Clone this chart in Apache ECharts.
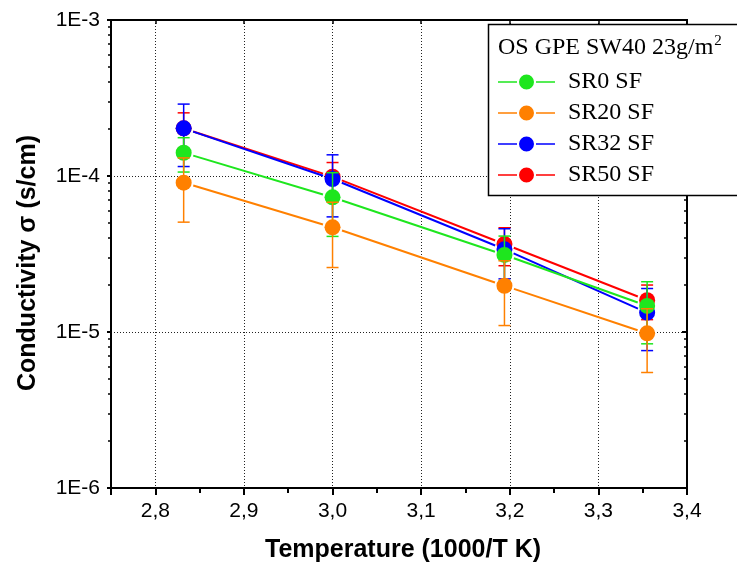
<!DOCTYPE html>
<html>
<head>
<meta charset="utf-8">
<script src="https://cdn.jsdelivr.net/npm/echarts@6/dist/echarts.min.js"></script>
<style>
  html, body { margin: 0; padding: 0; background: #fff; }
  #chart { width: 737px; height: 573px; }
</style>
</head>
<body>
<div id="chart"></div>
<script>
// x positions (1000/T)
const temps = [2.832, 3.0, 3.194, 3.355]

// conductivity values and error (+/-) per sample
const sr0 = [1.41e-4, 7.3e-5, 3.12e-5, 1.47e-5]
const sr0Err = [3.5e-5, 3.2e-5, 1.0e-5, 6.3e-6]
const sr20 = [9.06e-5, 4.69e-5, 1.98e-5, 9.8e-6]
const sr20Err = [4.0e-5, 2.1e-5, 8.8e-6, 4.3e-6]
const sr32 = [2.02e-4, 9.57e-5, 3.39e-5, 1.33e-5]
const sr32Err = [8.7e-5, 4.1e-5, 1.2e-5, 5.7e-6]
const sr50 = [2.02e-4, 9.9e-5, 3.66e-5, 1.6e-5]
const sr50Err = [5.2e-5, 2.3e-5, 1.0e-5, 4.0e-6]

const legendNames = ['SR0 SF', 'SR20 SF', 'SR32 SF', 'SR50 SF']
const yTicks = [1e-6, 1e-5, 1e-4, 1e-3]

const GAP = 10
const CAP = 6

const makeSeries = (name, color, vals, errs) => ({
  type: 'custom',
  name: name,
  itemStyle: { color: color },
  encode: { x: 0, y: 1 },
  data: temps.map((t, i) => [t, vals[i], errs[i]]),
  renderItem: (params, api) => {
    const i = params.dataIndex
    const x = api.value(0)
    const v = api.value(1)
    const e = api.value(2)
    const p = api.coord([x, v])
    const top = api.coord([x, v + e])
    const bot = api.coord([x, v - e])
    const children = []
    if (i < temps.length - 1) {
      const q = api.coord([temps[i + 1], vals[i + 1]])
      const dx = q[0] - p[0], dy = q[1] - p[1]
      const len = Math.sqrt(dx * dx + dy * dy)
      const ux = dx / len, uy = dy / len
      children.push({
        type: 'line',
        shape: { x1: p[0] + ux * GAP, y1: p[1] + uy * GAP, x2: q[0] - ux * GAP, y2: q[1] - uy * GAP },
        style: { stroke: color, lineWidth: 2 }
      })
    }
    children.push({
      type: 'line',
      shape: { x1: p[0], y1: top[1], x2: p[0], y2: bot[1] },
      style: { stroke: color, lineWidth: 1.5 }
    })
    children.push({
      type: 'line',
      shape: { x1: p[0] - CAP, y1: top[1], x2: p[0] + CAP, y2: top[1] },
      style: { stroke: color, lineWidth: 1.5 }
    })
    children.push({
      type: 'line',
      shape: { x1: p[0] - CAP, y1: bot[1], x2: p[0] + CAP, y2: bot[1] },
      style: { stroke: color, lineWidth: 1.5 }
    })
    children.push({
      type: 'circle',
      shape: { cx: p[0], cy: p[1], r: 8 },
      style: { fill: color }
    })
    return { type: 'group', children: children }
  }
})

const chart = echarts.init(document.getElementById('chart'))

const labelFont = { fontFamily: 'Liberation Sans', fontSize: 21, color: '#000' }
const nameFont = { fontFamily: 'Liberation Sans', fontSize: 25, fontWeight: 'bold', color: '#000' }

const option = {
  animation: false,
  backgroundColor: '#fff',
  grid: { left: 111, right: 50, top: 20, bottom: 85, show: true, borderColor: '#000', borderWidth: 2 },
  xAxis: [{
    type: 'value',
    min: 2.75,
    max: 3.4,
    splitNumber: 7,
    name: 'Temperature (1000/T K)',
    nameLocation: 'middle',
    nameGap: 50,
    nameTextStyle: { ...nameFont, padding: [0, 0, 0, 8] },
    axisLine: { lineStyle: { color: '#000', width: 2 } },
    axisTick: { show: true, length: 7, lineStyle: { color: '#000', width: 2 } },
    minorTick: { show: true, splitNumber: 2, length: 5, lineStyle: { color: '#000', width: 2 } },
    axisLabel: {
      ...labelFont,
      margin: 13,
      formatter: (v) => (Math.abs(v * 10 - Math.round(v * 10)) < 1e-6 ? v.toFixed(1).replace('.', ',') : '')
    },
    splitLine: { show: true, lineStyle: { color: '#222', width: 1, type: [1, 2] } }
  }, {
    type: 'value',
    position: 'top',
    min: 2.75,
    max: 3.4,
    splitNumber: 7,
    axisLine: { show: true, lineStyle: { color: '#000', width: 2 } },
    axisTick: { show: true, inside: true, length: 4, lineStyle: { color: '#000', width: 1.5 } },
    axisLabel: { show: false },
    splitLine: { show: false }
  }],
  yAxis: [{
    type: 'log',
    logBase: 10,
    min: yTicks[0],
    max: yTicks[yTicks.length - 1],
    name: 'Conductivity σ (s/cm)',
    nameLocation: 'middle',
    nameGap: 70,
    nameTextStyle: { ...nameFont, padding: [0, 18, 0, 0] },
    axisLine: { lineStyle: { color: '#000', width: 2 } },
    axisTick: { show: true, length: 4, lineStyle: { color: '#000', width: 2 } },
    minorTick: { show: true, inside: true, splitNumber: 9, length: 3, lineStyle: { color: '#000', width: 1.5 } },
    axisLabel: {
      ...labelFont,
      margin: 11,
      formatter: (v) => '1E' + Math.round(Math.log10(v))
    },
    splitLine: { show: true, lineStyle: { color: '#222', width: 1, type: [1, 2] } }
  }, {
    type: 'log',
    logBase: 10,
    position: 'right',
    min: yTicks[0],
    max: yTicks[yTicks.length - 1],
    axisLine: { show: true, lineStyle: { color: '#000', width: 2 } },
    axisTick: { show: true, inside: true, length: 5, lineStyle: { color: '#000', width: 2 } },
    minorTick: { show: true, splitNumber: 9, length: 3, lineStyle: { color: '#000', width: 1.5 } },
    axisLabel: { show: false },
    splitLine: { show: false }
  }],
  legend: {
    z: 60,
    left: 498,
    top: 70,
    padding: 0,
    orient: 'vertical',
    data: legendNames,
    itemWidth: 57,
    itemHeight: 15,
    itemGap: 7,
    icon: 'path://M0,6.7H19V8.3H0Z M38,6.7H57V8.3H38Z M21,7.5A7.5,7.5,0,1,1,36,7.5A7.5,7.5,0,1,1,21,7.5Z',
    textStyle: { fontFamily: 'Liberation Serif', fontSize: 24, color: '#000', lineHeight: 24, padding: [0, 0, 0, 8] }
  },
  graphic: [{
    type: 'rect',
    z: 50,
    shape: { x: 488.5, y: 24.5, width: 270, height: 171 },
    style: { fill: '#fff', stroke: '#000', lineWidth: 1.5 }
  }, {
    type: 'text',
    z: 55,
    x: 498,
    y: 34,
    style: {
      text: '{a|OS GPE SW40 23g/m}{s|2}',
      rich: {
        a: { fontFamily: 'Liberation Serif', fontSize: 24, fill: '#000' },
        s: { fontFamily: 'Liberation Serif', fontSize: 15, fill: '#000', verticalAlign: 'top', padding: [0, 0, 12, 1] }
      }
    }
  }],
  series: [
    makeSeries('SR50 SF', '#ff0000', sr50, sr50Err),
    makeSeries('SR32 SF', '#0000ff', sr32, sr32Err),
    makeSeries('SR0 SF', '#1ee61e', sr0, sr0Err),
    makeSeries('SR20 SF', '#ff8000', sr20, sr20Err)
  ]
}

chart.setOption(option)
</script>
</body>
</html>
